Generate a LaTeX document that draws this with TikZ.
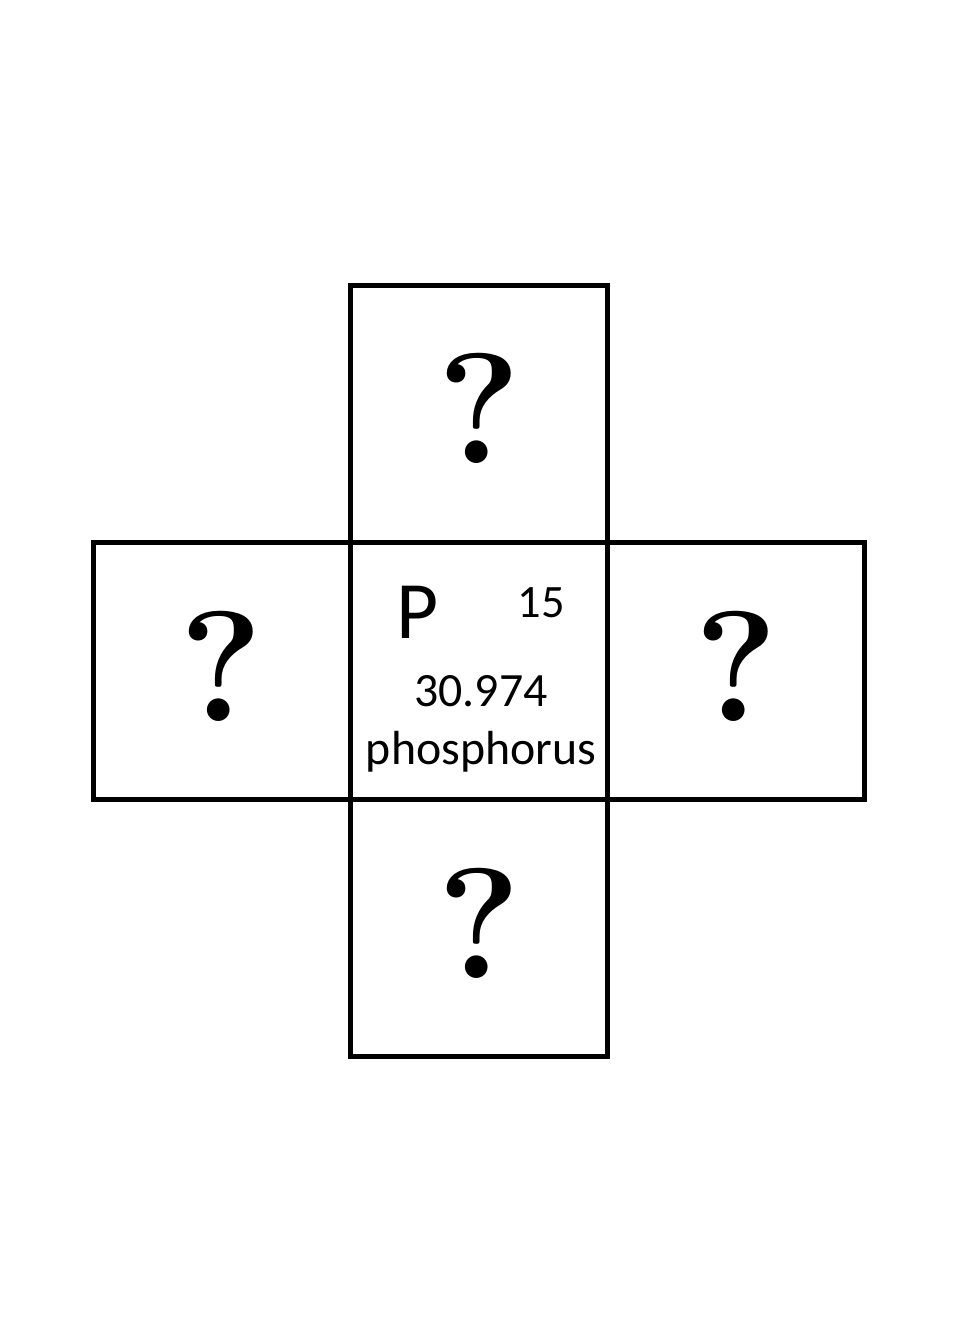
\documentclass[tikz,border=0pt]{standalone}
\usepackage{fontspec}
\newfontfamily\calfont{Carlito}
\usetikzlibrary{positioning,calc}

\begin{document}
\begin{tikzpicture}[x=0.025cm, y=-0.025cm,
    cell/.style={draw, line width=3.6pt, minimum size=6.43cm, inner sep=0pt, outer sep=0pt},
    unknown/.style={font=\bfseries\fontsize{112}{112}\selectfont, inner sep=0pt, anchor=base},
    info/.style={font=\calfont, anchor=base, inner sep=0pt}
  ]
  \useasboundingbox (0,0) rectangle (960,1344);

  % centre cell and its four neighbours
  \node[cell] (phos) at (479,671) {};
  \node[cell, above=0pt of phos] (top) {};
  \node[cell, below=0pt of phos] (bottom) {};
  \node[cell, left=0pt of phos] (left) {};
  \node[cell, right=0pt of phos] (right) {};

  % unknown neighbours
  \foreach \c in {top,bottom,left,right}
    \node[unknown] (q\c) at ($(\c.center)+(0,50)$) {?};

  % element data
  \node[info, font=\calfont\fontsize{58}{58}\selectfont] (sym) at (418,638) {P};
  \node[info, font=\calfont\fontsize{33}{33}\selectfont] (num) at (541,617) {15};
  \node[info, font=\calfont\fontsize{34}{34}\selectfont] (mass) at (481,706) {30.974};
  \node[info, font=\calfont\fontsize{34}{34}\selectfont] (name) at (481,764) {phosphorus};
\end{tikzpicture}
\end{document}
